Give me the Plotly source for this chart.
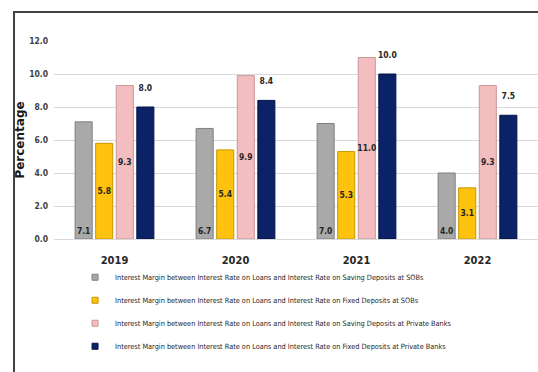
import plotly.graph_objects as go

years = ["2019", "2020", "2021", "2022"]
sob_saving = [7.1, 6.7, 7.0, 4.0]
sob_fixed = [5.8, 5.4, 5.3, 3.1]
pvt_saving = [9.3, 9.9, 11.0, 9.3]
pvt_fixed = [8.0, 8.4, 10.0, 7.5]

series_names = [
    "Interest Margin between Interest Rate on Loans and Interest Rate on Saving Deposits at SOBs",
    "Interest Margin between Interest Rate on Loans and Interest Rate on Fixed Deposits at SOBs",
    "Interest Margin between Interest Rate on Loans and Interest Rate on Saving Deposits at Private Banks",
    "Interest Margin between Interest Rate on Loans and Interest Rate on Fixed Deposits at Private Banks",
]
y_ticks = [0, 2, 4, 6, 8, 10, 12]

NARROW = "DejaVu Sans Condensed, Liberation Sans Narrow, Arial Narrow, sans-serif"

styles = [
    # fill, edge, label position, inside anchor
    dict(fill="#A9A9A9", edge="#7F7F7F", pos="inside", anchor="start"),
    dict(fill="#FFC20E", edge="#C89600", pos="inside", anchor="middle"),
    dict(fill="#F4BEC0", edge="#C99597", pos="inside", anchor="middle"),
    dict(fill="#0C2266", edge="#061445", pos="outside", anchor="middle"),
]

fig = go.Figure()
for i, (name, vals, st) in enumerate(zip(series_names, [sob_saving, sob_fixed, pvt_saving, pvt_fixed], styles)):
    fig.add_trace(go.Bar(
        x=years, y=vals, name=name,
        legendgroup=f"g{i}", showlegend=False,
        marker=dict(color=st["fill"], line=dict(color=st["edge"], width=1)),
        text=[f"{v:.1f}" for v in vals],
        texttemplate="%{text}" if st["pos"] == "inside" else "%{text}<br> ",
        textposition=st["pos"],
        insidetextanchor=st["anchor"],
        constraintext="none",
        textangle=0,
        textfont=dict(family=NARROW, size=8.5, color="#262626", weight="bold"),
        cliponaxis=False,
    ))
    # small square key for the legend
    fig.add_trace(go.Scatter(
        x=[None], y=[None], mode="markers", name=name,
        legendgroup=f"g{i}", showlegend=True,
        marker=dict(symbol="square", size=6, color=st["fill"],
                    line=dict(color=st["edge"], width=1)),
    ))

fig.update_layout(
    width=538, height=372,
    margin=dict(l=54, r=0, t=41, b=133, autoexpand=False),
    paper_bgcolor="white", plot_bgcolor="white",
    barmode="group", bargap=0.32, bargroupgap=0.17,
    showlegend=True,
    legend=dict(
        orientation="v", x=0.0435, xanchor="left", y=-0.12, yanchor="top",
        traceorder="grouped", tracegroupgap=4,
        font=dict(family=NARROW, size=7.3, color="#262626"),
        bgcolor="rgba(0,0,0,0)", itemwidth=30, itemsizing="trace",
    ),
    xaxis=dict(
        showgrid=False, showline=False, ticks="",
        ticklabelstandoff=13,
        tickfont=dict(family=NARROW, size=11, color="#262626", weight="bold"),
    ),
    yaxis=dict(
        range=[0, 12], tickvals=y_ticks, tickformat=".1f",
        showgrid=True, gridcolor="#D9D9D9", gridwidth=1,
        zeroline=True, zerolinecolor="#D9D9D9", zerolinewidth=1,
        ticks="", ticklabelstandoff=5,
        tickfont=dict(family=NARROW, size=8.5, color="#404040", weight="bold"),
        title=dict(text="Percentage", standoff=1,
                   font=dict(family="DejaVu Sans, sans-serif", size=12,
                             color="#1a1a1a", weight="bold")),
    ),
    shapes=[dict(
        type="rect", xref="paper", yref="paper",
        x0=-0.0826, x1=1.2, y0=-1.0, y1=1.146,
        line=dict(color="#404040", width=2), fillcolor="rgba(0,0,0,0)",
        layer="below",
    )],
)

fig.write_html("out.html")
